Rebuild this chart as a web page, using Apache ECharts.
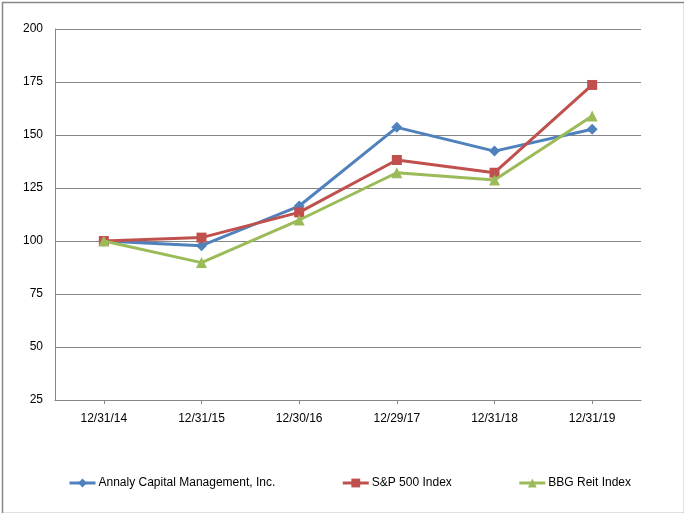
<!DOCTYPE html>
<html>
<head>
<meta charset="utf-8">
<script src="https://cdn.jsdelivr.net/npm/echarts@6/dist/echarts.min.js"></script>
<style>
html,body{margin:0;padding:0;background:#fff;overflow:hidden;}
#c{width:684px;height:513px;}
</style>
</head>
<body>
<div id="c"></div>
<script>
var categories = ['12/31/14','12/31/15','12/30/16','12/29/17','12/31/18','12/31/19'];
var annaly = [100, 97.8, 116.5, 153.6, 142.4, 152.7];
var sp500 = [100, 101.6, 113.5, 138.2, 132.2, 173.6];
var bbgReit = [100, 89.8, 109.9, 132.2, 128.8, 159.0];
var yTicks = {min: 25, max: 200, interval: 25};

var chart = echarts.init(document.getElementById('c'));
var font = 'Liberation Sans, Arial, sans-serif';
chart.setOption({
  animation: false,
  backgroundColor: '#fff',
  textStyle: {fontFamily: font},
  graphic: [{
    type: 'rect', left: 0, top: 0, z: -1, silent: true,
    shape: {x: 0, y: 0, width: 682, height: 511},
    position: [0.5, 0.5],
    style: {fill: 'none', stroke: '#868686', lineWidth: 1.5}
  }],
  grid: {left: 55, right: 43, top: 29, bottom: 113},
  legend: {
    left: 68, top: 477, padding: 0,
    itemGap: 66, itemWidth: 26, itemHeight: 11,
    lineStyle: {width: 3},
    textStyle: {fontSize: 12, color: '#000', fontFamily: font, padding: [0,0,0,-2]},
    data: ['Annaly Capital Management, Inc.', 'S&P 500 Index', 'BBG Reit Index']
  },
  xAxis: {
    type: 'category', data: categories, boundaryGap: true,
    axisLine: {lineStyle: {color: '#868686', width: 1}},
    axisTick: {show: true, alignWithLabel: true, length: 4, lineStyle: {color: '#868686'}},
    axisLabel: {color: '#000', fontSize: 12, margin: 13, fontFamily: font}
  },
  yAxis: {
    type: 'value', min: yTicks.min, max: yTicks.max, interval: yTicks.interval,
    axisLine: {show: true, lineStyle: {color: '#868686', width: 1}},
    axisTick: {show: false},
    splitLine: {lineStyle: {color: '#868686', width: 1}},
    axisLabel: {color: '#000', fontSize: 12, margin: 12, fontFamily: font}
  },
  series: [
    {name: 'Annaly Capital Management, Inc.', type: 'line', data: annaly,
     color: '#4F81BD', symbol: 'diamond', symbolSize: 11,
     lineStyle: {width: 3, color: '#4F81BD'}, itemStyle: {color: '#4F81BD'}, z: 3},
    {name: 'S&P 500 Index', type: 'line', data: sp500,
     color: '#C0504D', symbol: 'rect', symbolSize: 10,
     lineStyle: {width: 3, color: '#C0504D'}, itemStyle: {color: '#C0504D'}, z: 4},
    {name: 'BBG Reit Index', type: 'line', data: bbgReit,
     color: '#9BBB59', symbol: 'triangle', symbolSize: 11,
     lineStyle: {width: 3, color: '#9BBB59'}, itemStyle: {color: '#9BBB59'}, z: 5}
  ]
});
</script>
</body>
</html>
